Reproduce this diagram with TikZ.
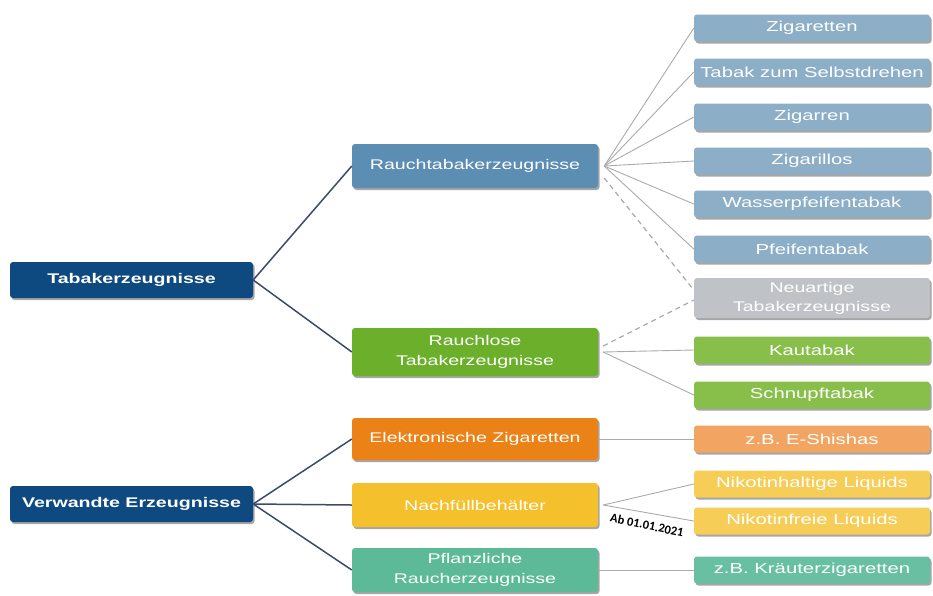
\documentclass[tikz,border=0pt]{standalone}
\usepackage{fontspec}
\setmainfont{Liberation Sans}
\newfontfamily\wfont[FakeStretch=1.4]{Liberation Sans}
\newfontfamily\lblfont{Carlito}
\usetikzlibrary{shadows}
\definecolor{dblue}{HTML}{0E4A80}
\definecolor{mblue}{HTML}{5C8DB3}
\definecolor{lblue}{HTML}{8DAEC7}
\definecolor{ngrey}{HTML}{BFC3C7}
\definecolor{mgreen}{HTML}{6BAF2B}
\definecolor{lgreen}{HTML}{88BF4A}
\definecolor{morange}{HTML}{EA8217}
\definecolor{lorange}{HTML}{F2A462}
\definecolor{myellow}{HTML}{F4C02C}
\definecolor{lyellow}{HTML}{F5CD57}
\definecolor{mteal}{HTML}{5DBA98}
\definecolor{lteal}{HTML}{68BFA1}
\definecolor{lineblue}{HTML}{3D4B6B}
\definecolor{linegrey}{HTML}{ABABAB}
\begin{document}
\begin{tikzpicture}[x=1pt,y=-1pt,
  box/.style={rounded corners=3pt, text=white, align=center, inner sep=0pt,
    drop shadow={shadow xshift=1.5pt, shadow yshift=-2pt, opacity=0.35, fill=black}},
  lbox/.style={box, minimum width=243pt, minimum height=36pt, fill=dblue,
    font=\wfont\bfseries\fontsize{14}{16}\selectfont},
  mbox/.style={box, minimum width=246pt, minimum height=44pt,
    font=\wfont\fontsize{14}{20}\selectfont},
  rbox/.style={box, minimum width=236pt, minimum height=27pt,
    font=\wfont\fontsize{14.5}{19}\selectfont},
  mainline/.style={draw=lineblue, line width=1.5pt},
  subline/.style={draw=linegrey, line width=0.9pt},
  dashline/.style={draw=linegrey, line width=1.2pt, dash pattern=on 5pt off 4pt},
]
\fill[white] (0,0) rectangle (933,595);
\useasboundingbox (0,0) rectangle (933,595);

% left
\node[lbox] (tabak) at (131.5,280) {Tabakerzeugnisse};
\node[lbox] (verw) at (131.5,504) {Verwandte Erzeugnisse};

% middle
\node[mbox, fill=mblue] (rauch) at (475,166) {Rauchtabakerzeugnisse};
\node[mbox, fill=mgreen, minimum height=48pt] (rlos) at (475,352) {Rauchlose\\Tabakerzeugnisse};
\node[mbox, fill=morange, minimum height=42pt] (ezig) at (475,439) {Elektronische Zigaretten};
\node[mbox, fill=myellow] (nach) at (475,505) {Nachfüllbehälter};
\node[mbox, fill=mteal] (pfl) at (475,570) {Pflanzliche\\Raucherzeugnisse};

% right
\node[rbox, fill=lblue] (r1) at (812,28) {Zigaretten};
\node[rbox, fill=lblue] (r2) at (812,72) {Tabak zum Selbstdrehen};
\node[rbox, fill=lblue] (r3) at (812,117) {Zigarren};
\node[rbox, fill=lblue] (r4) at (812,161) {Zigarillos};
\node[rbox, fill=lblue] (r5) at (812,204) {Wasserpfeifentabak};
\node[rbox, fill=lblue] (r6) at (812,249) {Pfeifentabak};
\node[rbox, fill=ngrey, minimum height=40pt, font=\wfont\fontsize{14}{19}\selectfont] (neu) at (812,298) {Neuartige\\Tabakerzeugnisse};
\node[rbox, fill=lgreen] (kau) at (812,350) {Kautabak};
\node[rbox, fill=lgreen] (schn) at (812,395) {Schnupftabak};
\node[rbox, fill=lorange] (shi) at (812,439) {z.B. E-Shishas};
\node[rbox, fill=lyellow] (nhl) at (812,484) {Nikotinhaltige Liquids};
\node[rbox, fill=lyellow] (nfl) at (812,521) {Nikotinfreie Liquids};
\node[rbox, fill=lteal] (kr) at (812,570) {z.B. Kräuterzigaretten};

% main connectors
\draw[mainline] (tabak.east) -- (rauch.west);
\draw[mainline] (tabak.east) -- (rlos.west);
\draw[mainline] (verw.east) -- (ezig.west);
\draw[mainline] (verw.east) -- (nach.west);
\draw[mainline] (verw.east) -- (pfl.west);

% fan connectors
\coordinate (rs) at ([xshift=6pt]rauch.east);
\foreach \n in {r1,r2,r3,r4,r5,r6}{\draw[subline] (rs) -- (\n.west);}
\draw[dashline] ([xshift=6pt,yshift=-12pt]rauch.east) -- ([yshift=8pt]neu.west);
\coordinate (gs) at ([xshift=5pt]rlos.east);
\draw[dashline] ([yshift=6pt]gs) -- ([yshift=-2pt]neu.west);
\draw[subline] (gs) -- (kau.west);
\draw[subline] (gs) -- (schn.west);
\draw[subline] (ezig.east) -- (shi.west);
\coordinate (ns) at ([xshift=5pt]nach.east);
\draw[subline] (ns) -- (nhl.west);
\draw[subline] (ns) -- (nfl.west);
\draw[subline] (pfl.east) -- (kr.west);

\node[rotate=-12, font=\lblfont\bfseries\fontsize{12.5}{14}\selectfont] (lbl) at (647,525) {Ab 01.01.2021};
\end{tikzpicture}
\end{document}
